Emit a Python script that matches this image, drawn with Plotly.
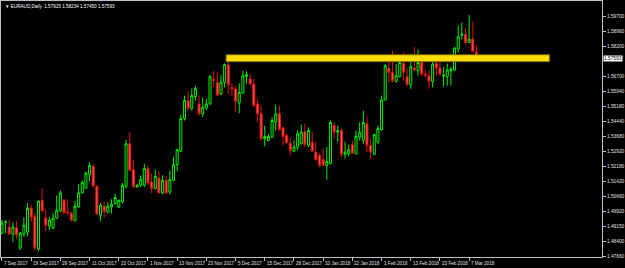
import plotly.graph_objects as go

# ---- data (bar index -> OHLC) ----
opens = [1.48843,1.4938,1.49143,1.48793,1.49108,1.48094,1.48793,1.48893,1.50092,1.49693,
         1.48044,1.50492,1.49608,1.49193,1.49093,1.49593,1.49958,1.50492,1.49908,1.49843,
         1.49458,1.50157,1.50857,1.51092,1.51791,1.52191,1.51191,1.49743,1.50192,1.49908,
         1.50157,1.50327,1.50142,1.50407,1.51191,1.53325,1.52026,1.51157,1.51241,1.51241,
         1.52076,1.51406,1.51077,1.51606,1.50857,1.51491,1.50907,1.51491,1.52276,1.52955,
         1.54589,1.55488,1.55088,1.55688,1.55323,1.54824,1.55123,1.55323,1.56572,1.56402,
         1.55823,1.56402,1.57287,1.56153,1.56073,1.55373,1.55873,1.56702,1.56572,1.56322,
         1.55323,1.54824,1.53575,1.53490,1.53654,1.54404,1.54824,1.54124,1.53739,1.53355,
         1.52955,1.53155,1.53325,1.53939,1.53240,1.53405,1.52905,1.52740,1.52525,1.52241,
         1.52325,1.54239,1.53904,1.53989,1.52790,1.52825,1.53275,1.52825,1.53654,1.53490,
         1.54324,1.53240,1.52790,1.53405,1.54024,1.55523,1.57122,1.56902,1.56452,1.56687,
         1.57352,1.56687,1.56287,1.57122,1.56987,1.57401,1.56822,1.56737,1.56452,1.57352,
         1.57122,1.56722,1.56687,1.56987,1.57022,1.58071,1.58770,1.58820,1.58401,1.58571,
         1.57915]
highs = [1.49493,1.49493,1.49493,1.49393,1.49443,1.48893,1.49643,1.50342,1.50292,1.49843,
         1.50492,1.51092,1.50042,1.49658,1.49858,1.50742,1.50992,1.50542,1.50542,1.49908,
         1.50457,1.51291,1.51491,1.51941,1.52405,1.52291,1.51241,1.50342,1.50407,1.50407,
         1.50542,1.50827,1.50517,1.51356,1.53525,1.53904,1.52525,1.51291,1.51741,1.52325,
         1.52241,1.51826,1.52026,1.51956,1.51741,1.51691,1.51991,1.52655,1.53075,1.54789,
         1.55738,1.55988,1.56088,1.56237,1.55738,1.55653,1.55573,1.56787,1.56987,1.56902,
         1.56787,1.57352,1.57786,1.56352,1.56237,1.56352,1.56987,1.56952,1.56822,1.56572,
         1.55573,1.55238,1.54239,1.53824,1.54654,1.55288,1.55238,1.54189,1.53824,1.53624,
         1.53490,1.53989,1.54289,1.54324,1.54154,1.53939,1.53405,1.52840,1.53105,1.53155,
         1.54489,1.54404,1.54239,1.54074,1.53440,1.53275,1.53490,1.53989,1.54404,1.54988,
         1.54689,1.53575,1.53800,1.54239,1.55738,1.57322,1.57586,1.57986,1.57322,1.57486,
         1.57901,1.57152,1.57851,1.58186,1.58071,1.57821,1.57022,1.56987,1.57486,1.57571,
         1.57571,1.57187,1.57352,1.57187,1.58186,1.59235,1.59400,1.59150,1.59785,1.59450,
         1.58234]
lows = [1.48793,1.48843,1.48743,1.48394,1.48544,1.47994,1.48643,1.48693,1.49393,1.47944,
        1.47944,1.49892,1.48943,1.48993,1.49068,1.49543,1.49908,1.49843,1.49743,1.49458,
        1.49443,1.50127,1.50827,1.51077,1.51441,1.51157,1.49743,1.49458,1.49608,1.49828,
        1.49828,1.50292,1.50127,1.50327,1.51077,1.51956,1.51077,1.51127,1.51157,1.51157,
        1.51241,1.50857,1.51027,1.50827,1.50777,1.50827,1.50792,1.51456,1.51956,1.52905,
        1.54489,1.54988,1.54988,1.55488,1.54739,1.54654,1.55023,1.55288,1.56153,1.55688,
        1.55773,1.56153,1.55823,1.55738,1.54903,1.54854,1.55823,1.56322,1.56237,1.55188,
        1.54404,1.53455,1.53190,1.53455,1.53624,1.53989,1.53989,1.53240,1.53355,1.52740,
        1.52905,1.52990,1.53290,1.53155,1.53140,1.52940,1.52490,1.52141,1.52216,1.51526,
        1.52291,1.53575,1.53405,1.52655,1.52576,1.52690,1.52825,1.52790,1.53490,1.53325,
        1.52905,1.52576,1.52765,1.53325,1.53989,1.55498,1.56402,1.56402,1.56402,1.56652,
        1.56487,1.56237,1.56073,1.56952,1.56737,1.56737,1.56652,1.56073,1.56153,1.56737,
        1.56737,1.56187,1.56237,1.56237,1.56987,1.57901,1.58571,1.58321,1.58371,1.57901,
        1.57450]
closes = [1.49343,1.4940,1.48793,1.49143,1.48743,1.48843,1.49243,1.50092,1.49643,1.48094,
          1.50442,1.49958,1.49243,1.49493,1.49593,1.49992,1.50857,1.49858,1.49858,1.49493,
          1.50192,1.50857,1.51391,1.51841,1.52241,1.51191,1.49793,1.50242,1.49908,1.50192,
          1.50292,1.50627,1.50492,1.51241,1.53325,1.51991,1.51191,1.51241,1.51526,1.52076,
          1.51356,1.51077,1.51691,1.50857,1.51491,1.50857,1.51526,1.52276,1.53025,1.54589,
          1.55488,1.55088,1.55738,1.56088,1.54824,1.55153,1.55323,1.56687,1.56487,1.55773,
          1.56402,1.57287,1.56287,1.56073,1.55453,1.55903,1.56737,1.56787,1.56322,1.55238,
          1.54824,1.53575,1.53689,1.53689,1.54489,1.54824,1.54024,1.53689,1.53375,1.52990,
          1.53155,1.53824,1.53904,1.53290,1.53989,1.52955,1.52525,1.52241,1.52241,1.52440,
          1.54389,1.53904,1.53989,1.52790,1.52905,1.53025,1.52855,1.53689,1.53904,1.54389,
          1.53240,1.52905,1.53789,1.54074,1.55523,1.57237,1.56902,1.56487,1.56737,1.57401,
          1.56902,1.56287,1.57187,1.57022,1.57401,1.56822,1.56737,1.56452,1.57322,1.57122,
          1.56822,1.56772,1.57022,1.57072,1.58121,1.58685,1.58820,1.58401,1.58571,1.57951,
          1.57593]

date_labels = ["7 Sep 2017","19 Sep 2017","29 Sep 2017","11 Oct 2017","23 Oct 2017",
               "1 Nov 2017","13 Nov 2017","23 Nov 2017","5 Dec 2017","15 Dec 2017",
               "28 Dec 2017","10 Jan 2018","22 Jan 2018","1 Feb 2018","13 Feb 2018",
               "23 Feb 2018","7 Mar 2018"]
date_bars = [0,8,16,24,32,40,48,56,64,72,80,88,96,104,112,120,128]

price_ticks = [1.47660,1.48413,1.49165,1.49918,1.50670,1.51423,1.52175,1.52928,1.53680,
               1.54433,1.55185,1.55938,1.56690,1.58195,1.58948,1.59700]
price_labels = ["1.47660","1.48400","1.49150","1.49920","1.50660","1.51420","1.52180",
                "1.52920","1.53680","1.54440","1.55180","1.55940","1.56700","1.58200",
                "1.58960","1.59700"]

zone_low, zone_high = 1.5744, 1.5779
zone_start, zone_end = 61.4, 150.0
last_price = 1.57593
title_text = "EURAUD,Daily  1.57915 1.58234 1.57450 1.57593"

FONT = "Liberation Sans"
bars = list(range(len(opens)))

fig = go.Figure()
fig.add_trace(go.Candlestick(
    x=bars, open=opens, high=highs, low=lows, close=closes,
    increasing=dict(line=dict(color="#00ee00", width=1), fillcolor="#000000"),
    decreasing=dict(line=dict(color="#e01010", width=1), fillcolor="#ff5a5a"),
    whiskerwidth=0, showlegend=False, hoverinfo="skip"))

fig.add_shape(type="rect", xref="x", yref="y", x0=zone_start, x1=zone_end,
              y0=zone_low, y1=zone_high, fillcolor="#ffdc00",
              line=dict(color="#7a6a00", width=1), layer="above")

for b, t in zip(date_bars, date_labels):
    fig.add_annotation(x=b, y=0, xref="x", yref="paper", yanchor="top", xanchor="left",
                       text=t, showarrow=False, xshift=0, yshift=-2,
                       font=dict(family=FONT, size=4.6, color="#e0e0e0"))

fig.add_annotation(x=0, y=1, xref="paper", yref="paper", xanchor="left", yanchor="top",
                   text="\u25BC " + title_text, showarrow=False, xshift=2, yshift=-1,
                   font=dict(family=FONT, size=4.6, color="#ffffff"))

fig.add_annotation(x=1, y=last_price, xref="paper", yref="y", xanchor="left",
                   yanchor="middle", text="1.57593", showarrow=False, xshift=1,
                   bgcolor="#ffffff", borderpad=0,
                   font=dict(family=FONT, size=4.8, color="#000000"))

fig.update_layout(
    width=625, height=268, margin=dict(l=0, r=21, t=0, b=11),
    paper_bgcolor="#000000", plot_bgcolor="#000000", boxgap=0.2,
    xaxis=dict(range=[-0.27, 164.4], rangeslider=dict(visible=False), showgrid=False,
               zeroline=False, tickvals=date_bars, ticktext=[""] * len(date_bars),
               ticks="outside", ticklen=3, tickcolor="#c0c0c0", showline=True,
               linecolor="#c0c0c0", linewidth=1, mirror=True),
    yaxis=dict(range=[1.47645, 1.60484], side="right", showgrid=False, zeroline=False,
               tickvals=price_ticks, ticktext=price_labels, ticks="outside", ticklen=3,
               tickcolor="#c0c0c0", showline=True, linecolor="#c0c0c0", linewidth=1,
               mirror=True, tickfont=dict(family=FONT, size=4.8, color="#e0e0e0")),
)

fig.write_html("out.html")
